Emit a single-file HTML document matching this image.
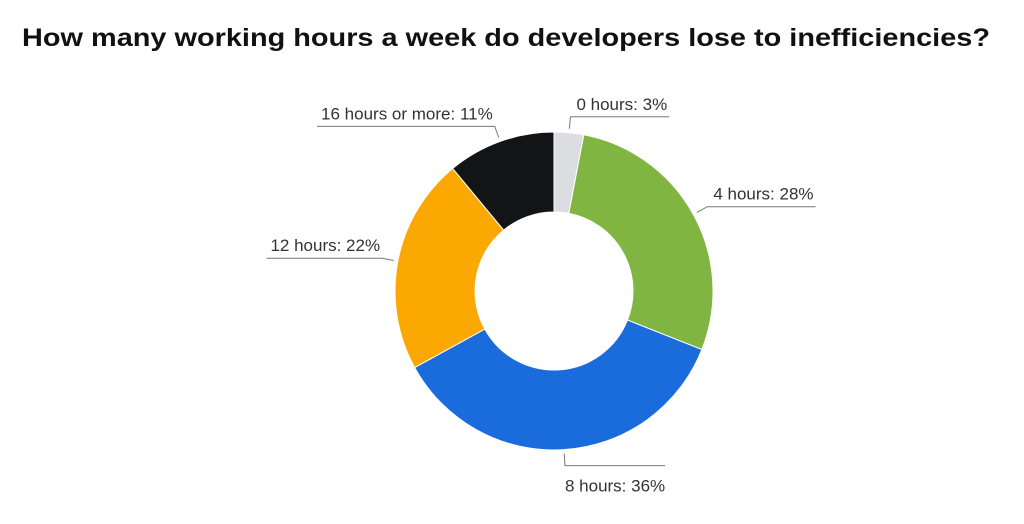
<!DOCTYPE html>
<html><head><meta charset="utf-8"><style>
body{margin:0;background:#fff;}
svg{display:block;font-family:"Liberation Sans",sans-serif;}
</style></head><body>
<svg id="chart" width="1024" height="524" viewBox="0 0 1024 524">
<text x="22" y="46" font-size="25" font-weight="bold" fill="#111" textLength="968" lengthAdjust="spacingAndGlyphs">How many working hours a week do developers lose to inefficiencies?</text>
<g id="slices"></g><g id="labels"></g>
</svg>
<script>
const categories = ["0 hours","4 hours","8 hours","12 hours","16 hours or more"];
const values = [3,28,36,22,11];
const colors = ["#dcdde0","#80b542","#1a6bdc","#fba803","#131416"];
const cx=554, cy=291, R=159, r0=79;
const NS="http://www.w3.org/2000/svg";
const total = values.reduce((a,b)=>a+b,0);
const sl=document.getElementById('slices'), lb=document.getElementById('labels');
function pt(a,rad){return [cx+rad*Math.sin(a), cy-rad*Math.cos(a)];}
let acc=0;
values.forEach((v,i)=>{
  const a0=acc/total*2*Math.PI; acc+=v; const a1=acc/total*2*Math.PI;
  const large=(a1-a0)>Math.PI?1:0;
  const p0=pt(a0,R),p1=pt(a1,R),q1=pt(a1,r0),q0=pt(a0,r0);
  const p=document.createElementNS(NS,'path');
  p.setAttribute('d',`M${p0[0]},${p0[1]}A${R},${R} 0 ${large} 1 ${p1[0]},${p1[1]}L${q1[0]},${q1[1]}A${r0},${r0} 0 ${large} 0 ${q0[0]},${q0[1]}Z`);
  p.setAttribute('fill',colors[i]);p.setAttribute('stroke','#fff');p.setAttribute('stroke-width','1');
  
  
  sl.appendChild(p);
  const am=(a0+a1)/2;
  const e=pt(am,R+4), k=pt(am,R+16);
  const right=Math.sin(am)>=-0.05;
  const bottom=Math.cos(am)<-0.9;
  const t=document.createElementNS(NS,'text');
  t.textContent=categories[i]+': '+v+'%';
  t.setAttribute('font-size','17');t.setAttribute('fill','#333');
  
  
  lb.appendChild(t);
  const w=t.getComputedTextLength();
  let x2;
  if(right){t.setAttribute('x',k[0]+(bottom?0:6)); x2=k[0]+w+(bottom?0:8);}
  else{t.setAttribute('x',k[0]-w-2); x2=k[0]-w-6;}
  t.setAttribute('y',bottom?k[1]+26:k[1]-7);
  const l=document.createElementNS(NS,'polyline');
  l.setAttribute('points',`${e[0]},${e[1]} ${k[0]},${k[1]} ${x2},${k[1]}`);
  l.setAttribute('fill','none');l.setAttribute('stroke','#777');l.setAttribute('stroke-width','1');
  
  
  lb.appendChild(l);
});
</script>
</body></html>
